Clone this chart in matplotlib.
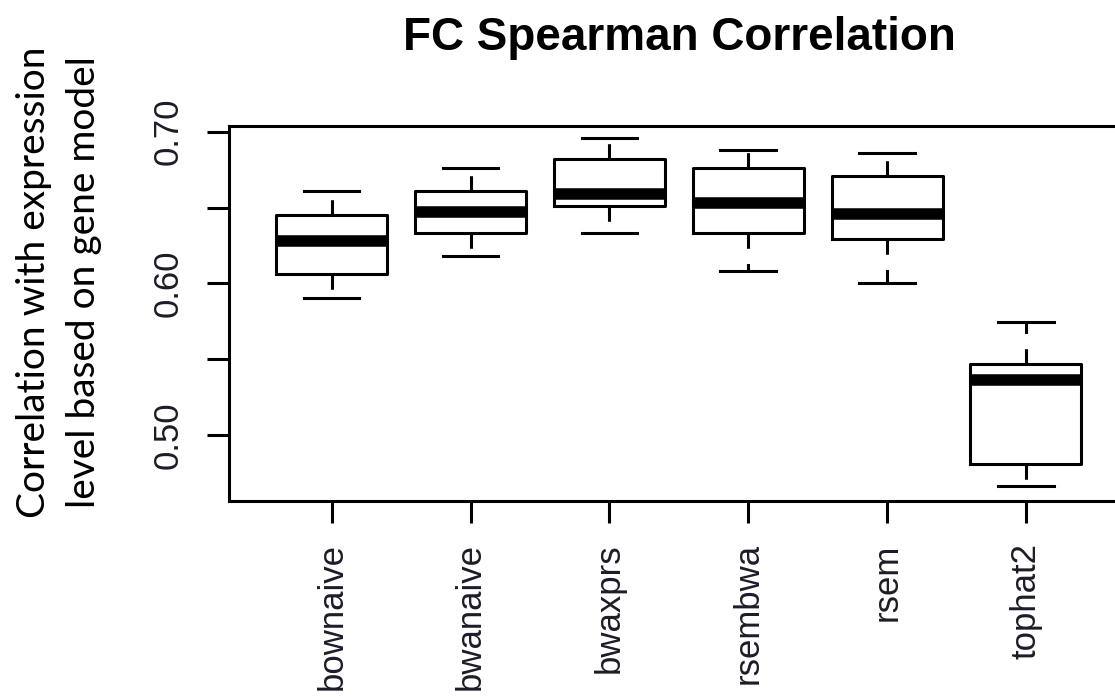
import numpy as np
import matplotlib
matplotlib.use('Agg')
import matplotlib.pyplot as plt

# values (R boxplot stats)
methods = ['bownaive', 'bwanaive', 'bwaxprs', 'rsembwa', 'rsem', 'tophat2']
whis_lo = [0.590, 0.618, 0.633, 0.608, 0.600, 0.4665]
q1 = [0.606, 0.633, 0.651, 0.633, 0.629, 0.481]
med = [0.628, 0.647, 0.659, 0.653, 0.646, 0.536]
q3 = [0.645, 0.661, 0.682, 0.676, 0.671, 0.547]
whis_hi = [0.661, 0.676, 0.696, 0.688, 0.686, 0.5745]

yticks = [0.50, 0.55, 0.60, 0.65, 0.70]
ylabels = ['0.50', '', '0.60', '', '0.70']

W, H = 1115, 697
fig = plt.figure(figsize=(W / 100, H / 100), dpi=100)
ax = fig.add_axes([229 / W, (H - 500.5) / H, 899.6 / W, 375 / H])

stats = []
for i in range(len(methods)):
    stats.append(dict(label=methods[i], whislo=whis_lo[i], q1=q1[i], med=med[i],
                      q3=q3[i], whishi=whis_hi[i], fliers=[]))

lw = 2.2
ax.bxp(stats, positions=range(1, 7), widths=0.8, capwidths=0.4, showfliers=False,
       boxprops=dict(color='black', linewidth=lw),
       whiskerprops=dict(color='black', linewidth=lw, linestyle=(0, (5, 5))),
       capprops=dict(color='black', linewidth=lw),
       medianprops=dict(color='black', linewidth=8.3, solid_capstyle='butt'))

ax.set_xlim(0.26, 6.74)
ax.set_ylim(0.4567, 0.7041)

for s in ax.spines.values():
    s.set_linewidth(lw)

ax.set_yticks(yticks)
ax.set_yticklabels(ylabels, rotation=90, va='center', family='Liberation Sans',
                   fontsize=25, color='#1c1c28')
ax.set_xticks(range(1, 7))
ax.set_xticklabels(methods, rotation=90, va='top', ha='center',
                   family='Liberation Sans', fontsize=25, color='#1c1c28')
ax.tick_params(axis='both', length=15.8, width=lw, direction='out')
ax.tick_params(axis='y', pad=16)
ax.tick_params(axis='x', pad=15)

fig.text(679 / W, (H - 50) / H, 'FC Spearman Correlation', ha='center', va='baseline',
         family='Liberation Sans', fontweight='bold', fontsize=33)

fig.text(59 / W, (H - 282) / H, 'Correlation with expression\nlevel based on gene model',
         rotation=90, ha='center', va='center', family='Lato', fontsize=28,
         linespacing=1.5, multialignment='center')

fig.savefig('out.png', dpi=100)
